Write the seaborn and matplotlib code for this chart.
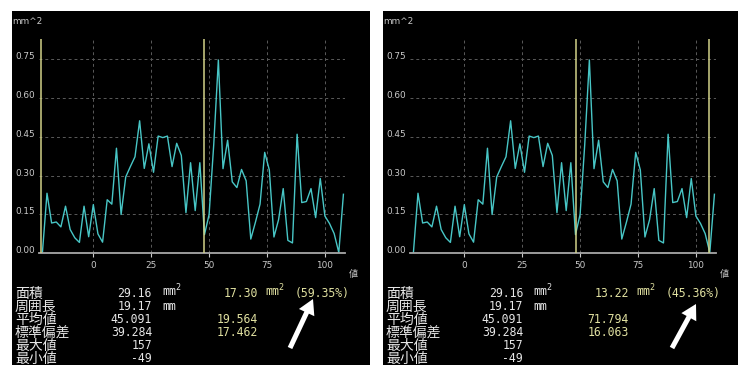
import matplotlib
matplotlib.use("Agg")
import matplotlib.pyplot as plt
import seaborn as sns
from matplotlib.patches import Rectangle, FancyArrow

# ---- profile data (area per slice, mm^2) ----
position = [-22, -20, -18, -16, -14, -12, -10, -8, -6, -4, -2, 0, 2, 4, 6, 8,
            10, 12, 14, 16, 18, 20, 22, 24, 26, 28, 30, 32, 34, 36, 38, 40,
            42, 44, 46, 48, 50, 52, 54, 56, 58, 60, 62, 64, 66, 68, 70, 72,
            74, 76, 78, 80, 82, 84, 86, 88, 90, 92, 94, 96, 98, 100, 102, 104,
            106, 108]
area = [0.000, 0.232, 0.117, 0.121, 0.102, 0.182, 0.092, 0.060, 0.042, 0.182,
        0.064, 0.188, 0.075, 0.043, 0.207, 0.190, 0.406, 0.150, 0.295, 0.335,
        0.373, 0.512, 0.328, 0.423, 0.313, 0.453, 0.447, 0.453, 0.335, 0.425,
        0.378, 0.157, 0.350, 0.165, 0.350, 0.072, 0.150, 0.420, 0.747, 0.327,
        0.437, 0.276, 0.254, 0.324, 0.280, 0.055, 0.120, 0.190, 0.390, 0.322,
        0.063, 0.130, 0.250, 0.050, 0.040, 0.460, 0.196, 0.200, 0.250, 0.138,
        0.289, 0.144, 0.115, 0.076, 0.003, 0.228]

x_ticks = [0, 25, 50, 75, 100]
y_ticks = [0.00, 0.15, 0.30, 0.45, 0.60, 0.75]
y_tick_labels = ["0.00", "0.15", "0.30", "0.45", "0.60", "0.75"]

# cursor positions for the two views
cursors = [[-22.7, 47.8], [48.2, 105.5]]

# statistics table
stat_names = ["面積", "周囲長", "平均値", "標準偏差", "最大値", "最小値"]
stat_values = ["29.16", "19.17", "45.091", "39.284", "157", "-49"]
stat_units = ["mm$^2$", "mm", "", "", "", ""]

# statistics of the selected range, one entry per view
sel_area = ["17.30", "13.22"]
sel_ratio = ["(59.35%)", "(45.36%)"]
sel_mean = ["19.564", "71.794"]
sel_std = ["17.462", "16.063"]

# ---- styling ----
W, H = 738, 365
BG = "black"
LINE = "#48c6c6"
CURSOR = "#d2d288"
GRID = "#5a5a5a"
TICK = "#c8c8c8"
TEXT = "#e6e6e6"
YELLOW = "#e0e0a0"
JP = ["Noto Sans CJK JP", "DejaVu Sans"]
MONO = ["DejaVu Sans Mono", "Noto Sans CJK JP"]

fig = plt.figure(figsize=(W / 100, H / 100), dpi=100, facecolor="white")


def rect(x0, y0, x1, y1):
    return [x0 / W, 1 - y1 / H, (x1 - x0) / W, (y1 - y0) / H]


# background layer in pixel coordinates: panels, text, arrows
bg = fig.add_axes([0, 0, 1, 1], zorder=0)
bg.set_xlim(0, W)
bg.set_ylim(H, 0)
bg.axis("off")

panel_x = [12, 383]
panel_w = [358, 355]
arrows = [(290, 348, 23, -49), (672, 348, 24, -44)]
baselines = [296.7, 309.7, 322.7, 335.7, 348.7, 361.7]

for k in range(2):
    dx = panel_x[k] - 12
    bg.add_patch(Rectangle((panel_x[k], 11), panel_w[k], H - 11,
                           facecolor=BG, edgecolor="none"))

    # axis captions
    bg.text(12.5 + dx, 22, "mm^2", fontsize=6.4, color=TICK,
            ha="left", va="center")
    bg.text(353 + dx, 274.5, "値", family=JP, fontsize=6.5, color=TICK,
            ha="center", va="center")

    # statistics table
    for i, base in enumerate(baselines):
        bg.text(15 + dx, base + 1, stat_names[i], family=JP, fontsize=10,
                color=TEXT, ha="left", va="baseline")
        bg.text(152 + dx, base, stat_values[i], family=MONO, fontsize=8.3,
                color=TEXT, ha="right", va="baseline")
        if stat_units[i]:
            bg.text(162 + dx, base, stat_units[i], family=MONO, fontsize=8.3,
                    color=TEXT, ha="left", va="baseline")

    bg.text(258 + dx, baselines[0], sel_area[k], family=MONO, fontsize=8.3,
            color=YELLOW, ha="right", va="baseline")
    bg.text(265 + dx, baselines[0], "mm$^2$", family=MONO, fontsize=8.3,
            color=YELLOW, ha="left", va="baseline")
    bg.text(295 + dx, baselines[0], sel_ratio[k], family=MONO, fontsize=8.3,
            color=YELLOW, ha="left", va="baseline")
    bg.text(258 + dx, baselines[2], sel_mean[k], family=MONO, fontsize=8.3,
            color=YELLOW, ha="right", va="baseline")
    bg.text(258 + dx, baselines[3], sel_std[k], family=MONO, fontsize=8.3,
            color=YELLOW, ha="right", va="baseline")

    ax_x, ax_y, adx, ady = arrows[k]
    bg.add_patch(FancyArrow(ax_x, ax_y, adx, ady, width=5, head_width=17,
                            head_length=15, length_includes_head=True,
                            facecolor="white", edgecolor="none"))

    # profile plot
    ax = fig.add_axes(rect(39 + dx, 39, 345 + dx, 253.3), zorder=1)
    ax.set_facecolor("none")
    ax.grid(True, color=GRID, linestyle=(0, (3, 3)), linewidth=0.7)
    ax.set_axisbelow(True)
    sns.lineplot(x=position, y=area, ax=ax, color=LINE, linewidth=1.0,
                 zorder=2)
    for c in cursors[k]:
        ax.axvline(c, color=CURSOR, linewidth=1.1, zorder=3)

    ax.set_xlim(-23.45, 108.68)
    ax.set_ylim(0, 0.828)
    ax.set_xticks(x_ticks)
    ax.set_yticks(y_ticks)
    ax.set_yticklabels(y_tick_labels)
    ax.set_xlabel("")
    ax.set_ylabel("")
    for side in ["top", "right", "left"]:
        ax.spines[side].set_visible(False)
    ax.spines["bottom"].set_color("#a8a8a8")
    ax.spines["bottom"].set_linewidth(1.3)
    ax.tick_params(axis="x", colors=TICK, labelsize=6.4, length=3,
                   width=0.8, pad=2.5, direction="out")
    ax.tick_params(axis="y", colors=TICK, labelsize=6.4, length=0, pad=3)
    for lbl in ax.get_yticklabels():
        lbl.set_verticalalignment("baseline")

fig.savefig("out.png", dpi=100, facecolor="white")
